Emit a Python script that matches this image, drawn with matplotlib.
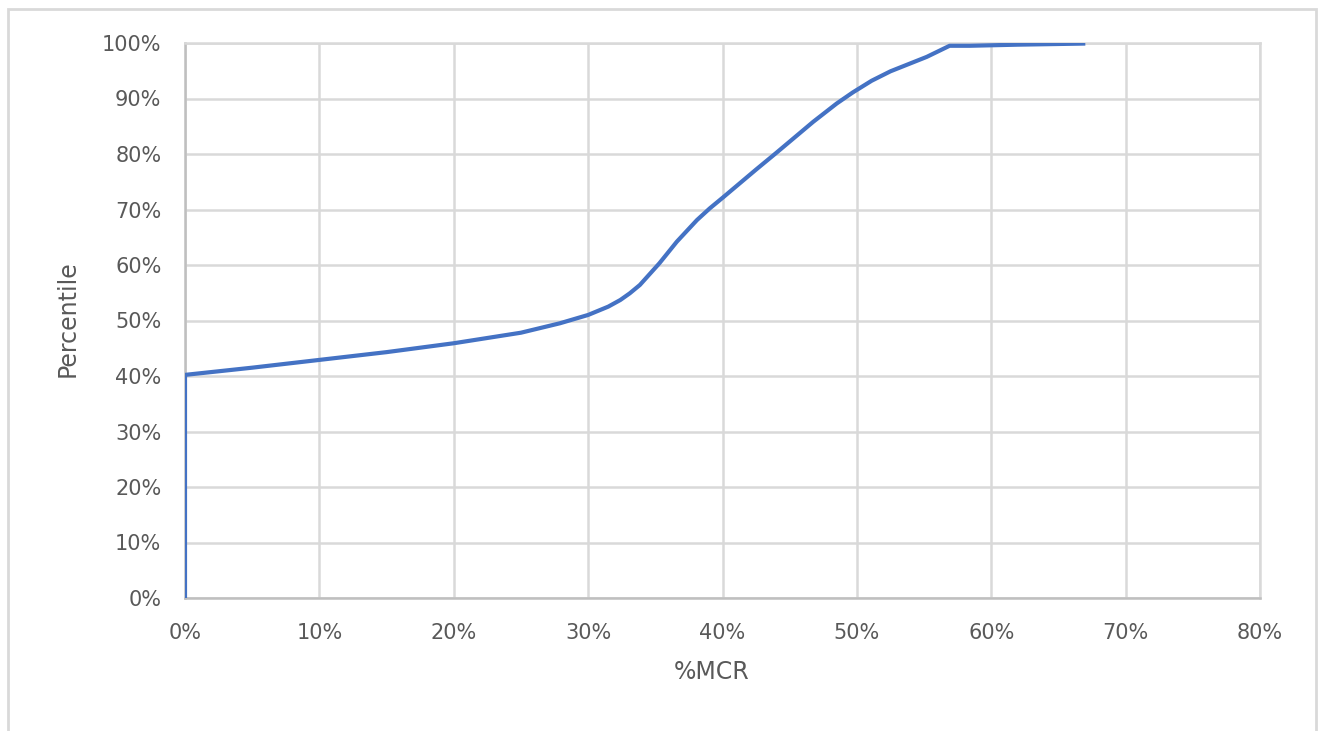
import matplotlib
matplotlib.use("Agg")
import matplotlib.pyplot as plt
from matplotlib.patches import Rectangle
from matplotlib.ticker import PercentFormatter

# Data (x = %MCR, y = percentile)
mcr = [0.0, 0.0, 0.0, 0.05, 0.10, 0.15, 0.20, 0.25, 0.279, 0.30, 0.315, 0.324, 0.331,
       0.3385, 0.353, 0.366, 0.381, 0.3905, 0.4005, 0.425, 0.440, 0.4675,
       0.485, 0.497, 0.511, 0.525, 0.552, 0.569, 0.584, 0.62, 0.67]
pct = [0.0, 0.385, 0.402, 0.415, 0.429, 0.443, 0.459, 0.478, 0.495, 0.510, 0.525, 0.537, 0.549,
       0.564, 0.603, 0.642, 0.681, 0.702, 0.722, 0.772, 0.802, 0.858,
       0.891, 0.911, 0.932, 0.949, 0.975, 0.995, 0.995, 0.997, 0.999]

x_ticks = [0, 0.1, 0.2, 0.3, 0.4, 0.5, 0.6, 0.7, 0.8]
y_ticks = [0, 0.1, 0.2, 0.3, 0.4, 0.5, 0.6, 0.7, 0.8, 0.9, 1.0]
x_title = "%MCR"
y_title = "Percentile"

W, H = 1320, 731
fig = plt.figure(figsize=(W / 100, H / 100), dpi=100)
ax = fig.add_axes([185 / W, 1 - 598 / H, (1260 - 185) / W, (598 - 43) / H])

# outer chart border
fig.patches.append(Rectangle((8 / W, -0.05), (1316 - 8) / W, 1.05 - 9 / H,
                             transform=fig.transFigure, fill=False,
                             edgecolor="#d9d9d9", linewidth=2.0))

ax.plot(mcr, pct, color="#4472C4", linewidth=3.0, solid_capstyle="butt",
        solid_joinstyle="round", zorder=3)

ax.set_xlim(0, 0.8)
ax.set_ylim(0, 1.0)
ax.set_xticks(x_ticks)
ax.set_yticks(y_ticks)
ax.xaxis.set_major_formatter(PercentFormatter(1.0, decimals=0))
ax.yaxis.set_major_formatter(PercentFormatter(1.0, decimals=0))

ax.grid(True, color="#d9d9d9", linewidth=1.8, zorder=0)
ax.set_axisbelow(True)
for s in ["top", "right"]:
    ax.spines[s].set_color("#d9d9d9")
    ax.spines[s].set_linewidth(1.8)
for s in ["left", "bottom"]:
    ax.spines[s].set_color("#bfbfbf")
    ax.spines[s].set_linewidth(1.8)

ax.tick_params(axis="both", length=0, labelsize=15, labelcolor="#595959")
ax.tick_params(axis="y", pad=17)
ax.tick_params(axis="x", pad=18)

fig.text(712 / W, 1 - 672 / H, x_title, fontsize=17, color="#595959",
         ha="center", va="center")
fig.text(68 / W, 1 - 319 / H, y_title, fontsize=17, color="#595959",
         ha="center", va="center", rotation=90)

fig.savefig("out.png", dpi=100)
